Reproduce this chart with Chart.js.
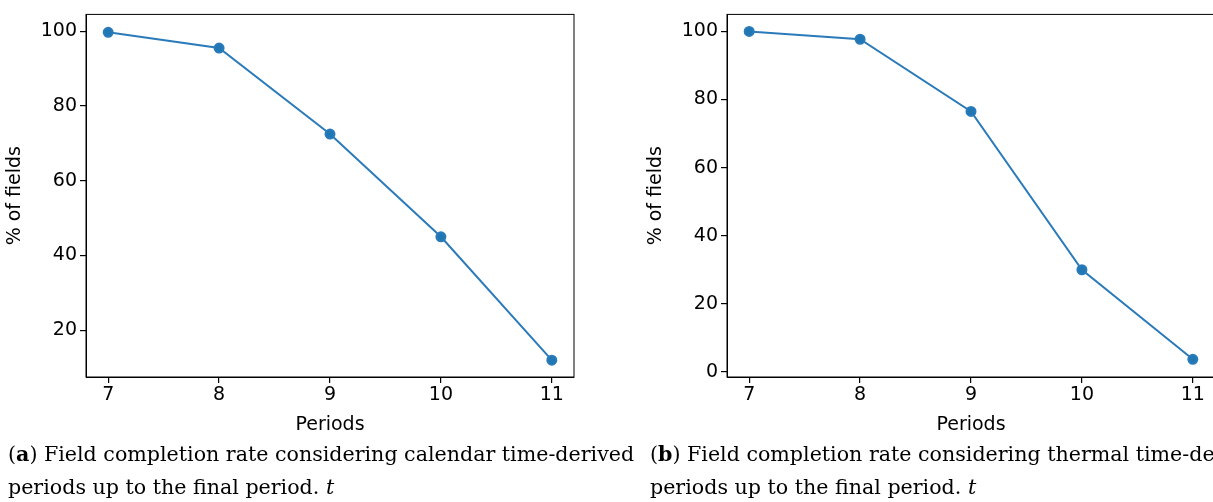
<!DOCTYPE html>
<html><head><meta charset="utf-8">
<script src="https://cdn.jsdelivr.net/npm/chart.js@4/dist/chart.umd.min.js"></script>
<style>
body{margin:0;background:#fff;width:1213px;height:502px;overflow:hidden;position:relative}
.c{position:absolute;top:0;width:600px;height:440px}
.cap{position:absolute;font-family:"DejaVu Serif",serif;font-size:20.6px;line-height:33px;white-space:nowrap;color:#000}
</style></head><body>
<div class="c" style="left:0"><canvas id="a"></canvas></div>
<div class="c" style="left:641px"><canvas id="b"></canvas></div>
<div class="cap" style="left:8px;top:438px">(<b>a</b>) Field completion rate considering calendar time-derived<br>periods up to the final period. <i>t</i></div>
<div class="cap" style="left:650px;top:438px">(<b>b</b>) Field completion rate considering thermal time-derived<br>periods up to the final period. <i>t</i></div>
<script>
const periods = [7, 8, 9, 10, 11];
const calendarRate = [99.7, 95.5, 72.5, 45, 12];
const thermalRate = [100, 97.7, 76.5, 30, 3.7];
const calendarTicks = [20, 40, 60, 80, 100];
const thermalTicks = [0, 20, 40, 60, 80, 100];

const frame = {
  id: 'frame',
  afterDraw(c) {
    const a = c.chartArea, ctx = c.ctx;
    ctx.save(); ctx.strokeStyle = '#000'; ctx.lineWidth = 1;
    ctx.strokeRect(a.left, a.top, a.right - a.left, a.bottom - a.top);
    ctx.restore();
  }
};

function draw(id, values, yTicks, yMin, yMax) {
  const font = { family: 'DejaVu Sans', size: 19 };
  new Chart(document.getElementById(id), {
    type: 'line',
    data: { datasets: [{
      data: periods.map((p, i) => ({ x: p, y: values[i] })),
      borderColor: '#2b7bba', backgroundColor: '#1f77b4',
      borderWidth: 2, pointRadius: 4.5, pointHoverRadius: 4.5, tension: 0
    }] },
    options: {
      responsive: true, maintainAspectRatio: false, animation: false,
      layout: { padding: { top: 8, right: 26, left: 0, bottom: 0 } },
      plugins: { legend: { display: false }, tooltip: { enabled: false } },
      scales: {
        x: {
          type: 'linear', min: 6.8, max: 11.2,
          afterBuildTicks: s => { s.ticks = periods.map(v => ({ value: v })); },
          afterFit: s => { s.height = 63; },
          ticks: { color: '#000', font, padding: 1, maxRotation: 0 },
          grid: { drawOnChartArea: false, tickLength: 6, color: '#000', lineWidth: 1.2 },
          border: { color: '#000' },
          title: { display: true, text: 'Periods', color: '#000', font, padding: { top: -3 } }
        },
        y: {
          min: yMin, max: yMax,
          afterBuildTicks: s => { s.ticks = yTicks.map(v => ({ value: v })); },
          afterFit: s => { s.width = 86; },
          ticks: { color: '#000', font, padding: 3 },
          grid: { drawOnChartArea: false, tickLength: 6, color: '#000', lineWidth: 1.2 },
          border: { color: '#000' },
          title: { display: true, text: '% of fields', color: '#000', font, padding: { bottom: 4 } }
        }
      }
    },
    plugins: [frame]
  });
}
draw('a', calendarRate, calendarTicks, 7.5, 104.5);
draw('b', thermalRate, thermalTicks, -1.5, 105);
</script>
</body></html>
